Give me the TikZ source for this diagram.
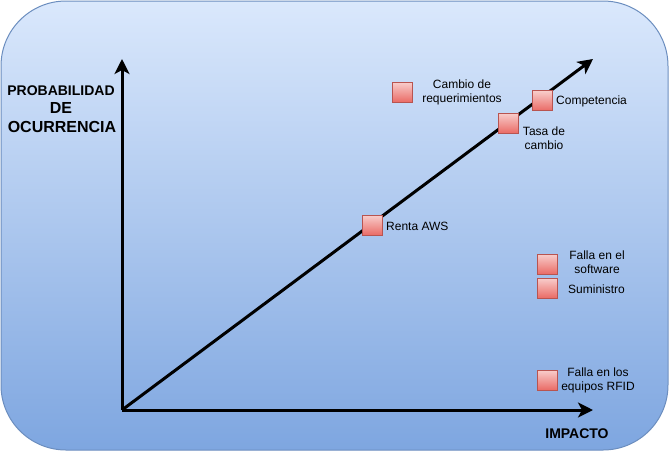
\documentclass[tikz,border=0pt]{standalone}
\usepackage{fontspec}
\setmainfont{Liberation Sans}
\usetikzlibrary{arrows.meta}
\definecolor{bgtop}{HTML}{DAE8FC}
\definecolor{bgbot}{HTML}{7EA6E0}
\definecolor{bgline}{HTML}{6C8EBF}
\definecolor{sqtop}{HTML}{F8CECC}
\definecolor{sqbot}{HTML}{EA6B66}
\definecolor{sqline}{HTML}{B85450}
\tikzset{
  riskbox/.style={minimum width=20pt,minimum height=20pt,inner sep=0pt,
    top color=sqtop,bottom color=sqbot,draw=sqline,line width=0.8pt},
  lbl/.style={font=\fontsize{12}{14}\selectfont,align=center,inner sep=0pt,text=black},
  axis/.style={line width=3pt,-{Stealth[length=15pt,width=15pt,inset=4pt]}},
  ttl/.style={font=\bfseries,align=center,inner sep=0pt}
}
\begin{document}
\begin{tikzpicture}[x=1pt,y=-1pt]
\useasboundingbox (0,0) rectangle (670,451);
\shade[top color=bgtop,bottom color=bgbot,rounded corners=65pt] (1,1) rectangle (668,450);
\draw[bgline,line width=1pt,rounded corners=65pt] (1,1) rectangle (668,450);

\coordinate (o) at (122,410);
\coordinate (ytip) at (122,59);
\coordinate (xtip) at (593,410);
\coordinate (dtip) at (593,59);

\draw[axis] (o) -- (ytip);
\draw[axis] (o) -- (xtip);
\draw[axis] (o) -- (dtip);

\node[riskbox] (cr) at (402,92) {};
\node[lbl] (crl) at (462,92) {Cambio de\\requerimientos};
\node[riskbox] (comp) at (542,100.5) {};
\node[lbl,anchor=west] (compl) at (556,101) {Competencia};
\node[riskbox] (tasa) at (508,123) {};
\node[lbl] (tasal) at (544,138) {Tasa de\\cambio};
\node[riskbox] (aws) at (372,225) {};
\node[lbl,anchor=west] (awsl) at (386,226) {Renta AWS};
\node[riskbox] (soft) at (547,264) {};
\node[lbl] (softl) at (597,262) {Falla en el\\software};
\node[riskbox] (sum) at (547,288) {};
\node[lbl,anchor=west] (suml) at (568,289) {Suministro};
\node[riskbox] (rfid) at (547,380) {};
\node[lbl] (rfidl) at (598,380) {Falla en los\\equipos RFID};

\node[ttl,font=\fontsize{14}{16}\bfseries\selectfont] (imp) at (577,434) {IMPACTO};
\node[ttl,font=\fontsize{14}{16}\bfseries\selectfont] (prob) at (61,91) {PROBABILIDAD};
\node[ttl,font=\fontsize{16}{18}\bfseries\selectfont] (de) at (61,108) {DE};
\node[ttl,font=\fontsize{16}{18}\bfseries\selectfont] (ocu) at (62,127) {OCURRENCIA};
\end{tikzpicture}
\end{document}
